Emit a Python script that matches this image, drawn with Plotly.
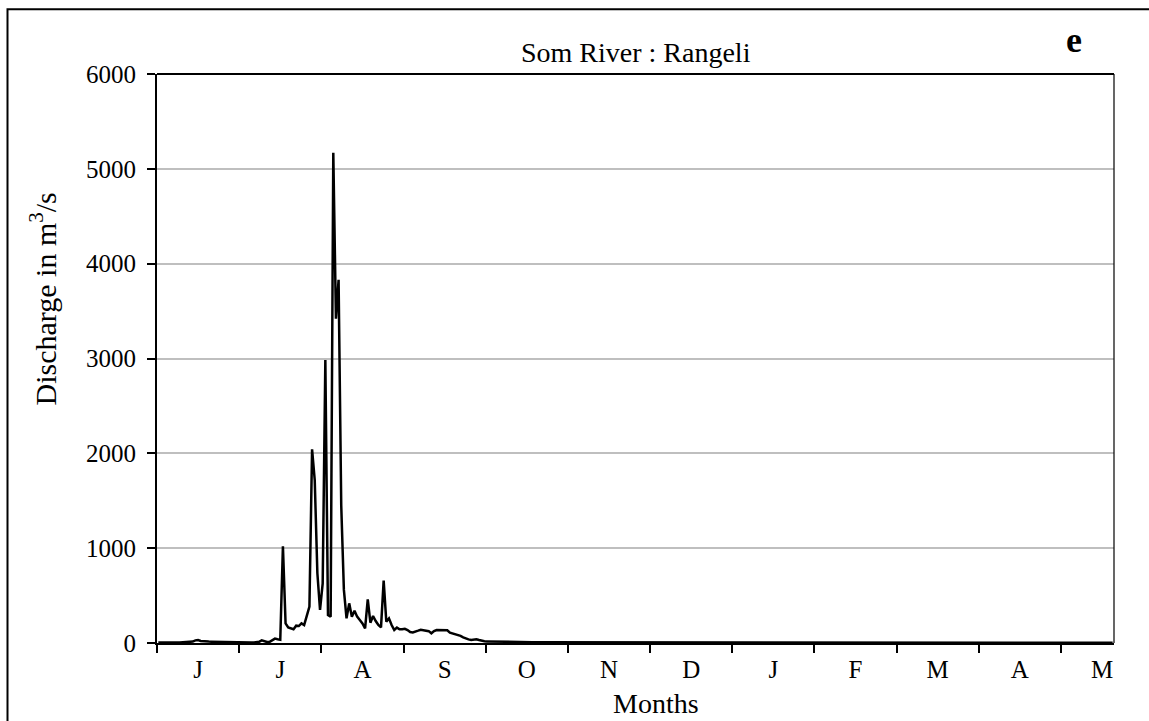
import plotly.graph_objects as go

# ---- data (daily discharge, m3/s) ----
month_labels = ["J", "J", "A", "S", "O", "N", "D", "J", "F", "M", "A", "M"]

q_jun = [6, 7, 6, 5, 6, 7, 6, 6, 5, 6, 7, 6, 8, 15, 28, 32, 22, 18, 18, 15,
         14, 13, 13, 12, 12, 12, 10, 8, 7, 7, 6]
q_jul = [6, 6, 6, 5, 6, 6, 7, 12, 28, 15, 10, 12, 25, 46, 40, 35, 1020, 207, 165, 155,
         145, 183, 179, 207, 190, 285, 383, 2042, 1719, 735, 348]
q_aug = [629, 2984, 295, 278, 5170, 3420, 3830, 1450, 560, 260, 418, 278, 341, 278, 243, 207,
         155, 460, 214, 285, 232, 190, 165, 657, 225, 260, 190, 137, 162, 144, 144]
q_sep = [150, 137, 115, 112, 125, 130, 140, 135, 130, 125, 102, 125, 137, 137, 140, 140,
         135, 110, 102, 95, 90, 75, 60, 46, 38, 32, 35, 40, 32, 22, 18]
q_oct = [17, 16, 15, 15, 14, 13, 13, 12, 12, 11, 11, 10, 10, 10, 9, 9,
         9, 8, 8, 8, 8, 7, 7, 7, 7, 7, 6, 6, 6, 6, 6]
q_nov = [6, 6, 6, 6, 5, 5, 5, 5, 5, 5, 5, 5, 5, 5, 5, 5,
         5, 5, 5, 5, 5, 5, 5, 4, 4, 4, 4, 4, 4, 4, 4]
q_dec = [4, 4, 4, 4, 4, 4, 4, 4, 4, 4, 4, 4, 4, 4, 4, 4,
         4, 4, 4, 4, 4, 4, 4, 4, 4, 4, 4, 4, 4, 4, 4]
q_jan = [4, 4, 4, 4, 4, 4, 4, 4, 4, 4, 4, 4, 3, 3, 3, 3,
         3, 3, 3, 3, 3, 3, 3, 3, 3, 3, 3, 3, 3, 3, 3]
q_feb = [3, 3, 3, 3, 3, 3, 3, 3, 3, 3, 3, 3, 3, 3, 3, 3,
         3, 3, 3, 3, 3, 3, 3, 3, 3, 3, 3, 3, 3, 3, 3]
q_mar = [3, 3, 3, 3, 3, 3, 3, 3, 3, 3, 3, 3, 3, 3, 3, 3,
         3, 3, 3, 3, 3, 3, 3, 3, 3, 3, 3, 3, 3, 3, 3]
q_apr = [3, 3, 3, 3, 3, 3, 3, 3, 3, 3, 3, 3, 3, 3, 3, 3,
         3, 3, 3, 3, 3, 3, 3, 3, 3, 3, 3, 3, 3, 3, 3]
q_may = [3, 3, 3, 3, 3, 3, 3, 3, 3, 3, 3, 3, 3, 3, 3, 3,
         3, 3, 3, 3]

y_ticks = [0, 1000, 2000, 3000, 4000, 5000, 6000]

discharge = (q_jun + q_jul + q_aug + q_sep + q_oct + q_nov + q_dec +
             q_jan + q_feb + q_mar + q_apr + q_may)
n_days = len(discharge)
days = [i + 0.5 for i in range(n_days)]
interval = 31
boundaries = [k * interval for k in range(len(month_labels))]
centers = [k * interval + interval / 2 for k in range(len(month_labels))]

FONT = "Liberation Serif, Times New Roman, serif"

fig = go.Figure()
fig.add_trace(go.Scatter(x=days, y=discharge, mode="lines",
                         line=dict(color="black", width=2.5), hoverinfo="skip",
                         showlegend=False))

W, H = 1149, 721
L, R, T, B = 157, 1114, 74, 643
pw, ph = R - L, B - T


def px(x):
    return (x - L) / pw


def py(y):
    return (B - y) / ph


fig.update_layout(
    width=W, height=H,
    margin=dict(l=L, r=W - R, t=T, b=H - B, pad=0),
    paper_bgcolor="white", plot_bgcolor="white",
    font=dict(family=FONT, color="black", size=25),
    xaxis=dict(range=[0, n_days], showline=True, linewidth=2, linecolor="black",
               showgrid=False, zeroline=False,
               tickmode="array", tickvals=centers, ticktext=month_labels,
               ticks="", ticklabelstandoff=3, tickfont=dict(size=25),
               minor=dict(tickmode="array", tickvals=boundaries, ticks="outside",
                          ticklen=8, tickwidth=2, tickcolor="black", showgrid=False)),
    yaxis=dict(range=[0, 6000], showline=True, linewidth=2, linecolor="black",
               tickmode="array", tickvals=y_ticks,
               ticks="outside", ticklen=8, tickwidth=2, tickcolor="black",
               showgrid=True, gridcolor="#bfbfbf", gridwidth=1.5, zeroline=False,
               tickfont=dict(size=25), ticklabelstandoff=6),
    shapes=[
        dict(type="line", xref="paper", yref="paper", x0=0, x1=1, y0=1, y1=1,
             line=dict(color="black", width=2)),
        dict(type="line", xref="paper", yref="paper", x0=1, x1=1, y0=0, y1=1,
             line=dict(color="black", width=1.2)),
        dict(type="rect", xref="paper", yref="paper",
             x0=px(7.5), x1=px(W + 20), y0=py(H + 20), y1=py(9.3),
             line=dict(color="black", width=2), fillcolor="rgba(0,0,0,0)"),
    ],
    annotations=[
        dict(text="Som River : Rangeli", xref="paper", yref="paper",
             x=px(635.5), y=py(52), xanchor="center", yanchor="middle",
             showarrow=False, font=dict(size=28)),
        dict(text="<b>e</b>", xref="paper", yref="paper",
             x=px(1074), y=py(40), xanchor="center", yanchor="middle",
             showarrow=False, font=dict(size=36)),
        dict(text="Discharge in m<sup>3</sup>/s", xref="paper", yref="paper",
             x=px(43.5), y=py(299), xanchor="center", yanchor="middle",
             textangle=-90, showarrow=False, font=dict(size=30)),
        dict(text="Months", xref="paper", yref="paper",
             x=px(656), y=py(703), xanchor="center", yanchor="middle",
             showarrow=False, font=dict(size=28)),
    ],
)

fig.write_html("out.html", config={"displayModeBar": False},
               post_script="document.body.style.margin='0px';document.body.style.padding='0px';")
